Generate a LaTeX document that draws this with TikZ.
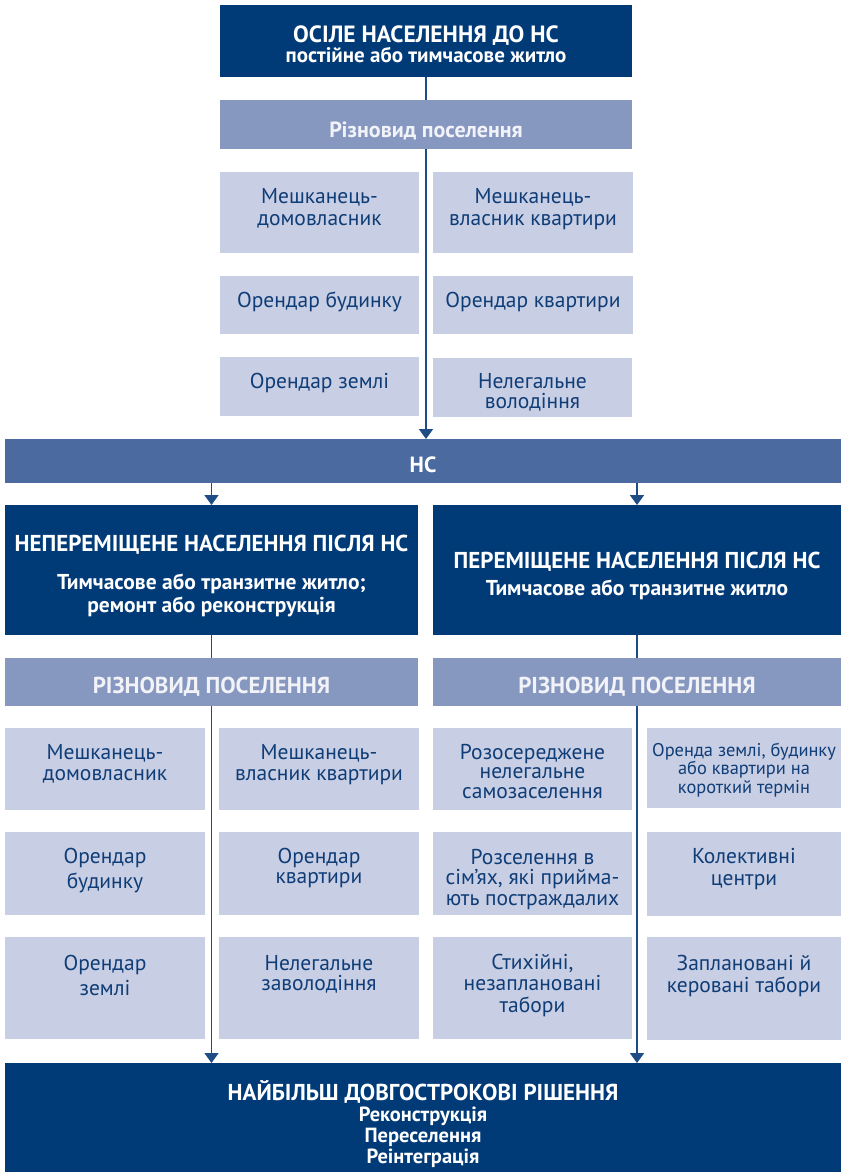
\documentclass[tikz,border=0pt]{standalone}
\usepackage{fontspec}
\setmainfont{PT Sans}
\usetikzlibrary{arrows.meta,backgrounds}

\definecolor{navy}{HTML}{003B78}
\definecolor{hcblue}{HTML}{4B6A9F}
\definecolor{barblue}{HTML}{8697C0}
\definecolor{cellblue}{HTML}{C8CEE3}
\definecolor{inknavy}{HTML}{0F3D77}
\definecolor{linkblue}{HTML}{1E4D86}
\definecolor{barink}{HTML}{F2F3F8}

\tikzset{
  panel/.style={rectangle, inner sep=0pt, outer sep=0pt, draw=none},
  dark/.style={panel, fill=navy},
  band/.style={panel, fill=hcblue},
  bar/.style={panel, fill=barblue},
  cell/.style={panel, fill=cellblue},
  % text blocks are placed by the baseline of their last line
  txt/.style={inner sep=0pt, outer sep=0pt, align=center, anchor=base},
  celltxt/.style={txt, text=inknavy},
  htxt/.style={txt, text=white},
  bartxt/.style={txt, text=barink},
  link/.style={draw=linkblue, line width=1.8pt},
  arr/.style={link, -{Triangle[width=14pt,length=10pt]}},
}

% box from (x1,y1) to (x2,y2), y measured downwards
\newcommand\panelbox[6]{%
  \node[#6, minimum width={#4-#2}, minimum height={#5-#3}] (#1)
    at ({(#2+#4)/2},{(#3+#5)/2}) {};}
% cell text: [options]{name}{x}{last baseline}{line spacing}{text}
\newcommand\celltext[6][]{%
  \node[celltxt, font=\fontsize{21.5}{#5}\selectfont, #1] (#2) at (#3,#4) {#6};}
% white heading: [options]{name}{x}{last baseline}{text}
\newcommand\headtext[5][]{%
  \node[htxt, #1] (#2) at (#3,#4) {#5};}

\begin{document}
\begin{tikzpicture}[x=1pt,y=-1pt]
\useasboundingbox (0,0) rectangle (841,1172);

% ---------- before the disaster ----------
\panelbox{top}{220}{5}{632}{77}{dark}
\headtext[font=\bfseries\fontsize{23.5}{20}\selectfont]{top-t}{426}{63}
  {ОСІЛЕ НАСЕЛЕННЯ ДО НС\\
   {\fontsize{21}{20}\selectfont постійне або тимчасове житло}}

\panelbox{rz}{220}{100}{632}{149}{bar}
\node[bartxt, font=\bfseries\fontsize{22}{20}\selectfont] (rz-t) at (426,137)
  {Різновид поселення};

\panelbox{a1}{220}{172}{419}{253}{cell}
\panelbox{a2}{433}{172}{633}{253}{cell}
\panelbox{a3}{220}{276}{419}{334}{cell}
\panelbox{a4}{433}{276}{633}{334}{cell}
\panelbox{a5}{220}{357}{419}{416}{cell}
\panelbox{a6}{433}{358}{632}{417}{cell}

\celltext{a1-t}{319.5}{225}{22}{Мешканець-\\домовласник}
\celltext{a2-t}{533}{225}{22}{Мешканець-\\власник квартири}
\celltext{a3-t}{319.5}{307}{21}{Орендар будинку}
\celltext{a4-t}{533}{307}{21}{Орендар квартири}
\celltext{a5-t}{319.5}{388}{21}{Орендар землі}
\celltext{a6-t}{532.5}{408}{20}{Нелегальне\\володіння}

% ---------- the disaster ----------
\panelbox{hc}{5}{439}{841}{483}{band}
\headtext[font=\bfseries\fontsize{22}{20}\selectfont]{hc-t}{423}{472}{НС}

% ---------- after the disaster ----------
\panelbox{nd}{5}{505}{418}{635}{dark}
\panelbox{pd}{433}{505}{841}{635}{dark}
\headtext[font=\bfseries\fontsize{23}{20}\selectfont]{nd-t}{211.5}{551}
  {НЕПЕРЕМІЩЕНЕ НАСЕЛЕННЯ ПІСЛЯ НС}
\headtext[font=\bfseries\fontsize{21.5}{23}\selectfont]{nd-s}{211.5}{612}
  {Тимчасове або транзитне житло;\\ремонт або реконструкція}
\headtext[font=\bfseries\fontsize{23}{27}\selectfont]{pd-t}{637}{595}
  {ПЕРЕМІЩЕНЕ НАСЕЛЕННЯ ПІСЛЯ НС\\
   {\fontsize{21.5}{27}\selectfont Тимчасове або транзитне житло}}

\panelbox{rl}{5}{658}{418}{706}{bar}
\panelbox{rr}{433}{658}{841}{706}{bar}
\node[bartxt, font=\bfseries\fontsize{23}{20}\selectfont] (rl-t) at (211.5,693)
  {РІЗНОВИД ПОСЕЛЕННЯ};
\node[bartxt, font=\bfseries\fontsize{23}{20}\selectfont] (rr-t) at (637,693)
  {РІЗНОВИД ПОСЕЛЕННЯ};

\panelbox{b1}{5}{728}{205}{810}{cell}
\panelbox{b2}{219}{728}{419}{810}{cell}
\panelbox{b3}{433}{728}{632}{810}{cell}
\panelbox{b4}{647}{728}{841}{808}{cell}
\panelbox{b5}{5}{832}{205}{915}{cell}
\panelbox{b6}{219}{832}{419}{915}{cell}
\panelbox{b7}{433}{832}{632}{915}{cell}
\panelbox{b8}{647}{832}{841}{916}{cell}
\panelbox{b9}{5}{937}{205}{1039}{cell}
\panelbox{b10}{219}{937}{419}{1039}{cell}
\panelbox{b11}{433}{937}{632}{1039}{cell}
\panelbox{b12}{647}{937}{841}{1040}{cell}

\celltext{b1-t}{105}{780}{21}{Мешканець-\\домовласник}
\celltext{b2-t}{319}{780}{21}{Мешканець-\\власник квартири}
\celltext{b3-t}{532.5}{798}{19.5}{Розосереджене\\нелегальне\\самозаселення}
\celltext[font=\fontsize{18.4}{18.5}\selectfont]{b4-t}{744}{793}{18.5}
  {Оренда землі, будинку\\або квартири на\\короткий термін}
\celltext{b5-t}{105}{888}{25}{Орендар\\будинку}
\celltext{b6-t}{319}{883}{20}{Орендар\\квартири}
\celltext{b7-t}{532.5}{905}{20.5}{Розселення в\\сім’ях, які прийма-\\ють постраждалих}
\celltext{b8-t}{744}{885}{22}{Колективні\\центри}
\celltext{b9-t}{105}{995}{25}{Орендар\\землі}
\celltext{b10-t}{319}{990}{20}{Нелегальне\\заволодіння}
\celltext{b11-t}{532.5}{1012}{21.5}{Стихійні,\\незаплановані\\табори}
\celltext{b12-t}{744}{992}{22}{Заплановані й\\керовані табори}

% ---------- durable solutions ----------
\panelbox{fin}{5}{1063}{841}{1172}{dark}
\headtext[font=\bfseries\fontsize{20.5}{21}\selectfont]{fin-t}{423}{1163}
  {{\fontsize{23}{21}\selectfont НАЙБІЛЬШ ДОВГОСТРОКОВІ РІШЕННЯ}\\
   Реконструкція\\Переселення\\Реінтеграція}

% ---------- connectors, behind the boxes ----------
\begin{scope}[on background layer]
  \draw[link] (top.south) -- (rz.north);
  \draw[arr] (rz.south) -- (rz.south |- hc.north);
  \draw[arr] (nd.north |- hc.south) -- (nd.north);
  \draw[arr] (pd.north |- hc.south) -- (pd.north);
  \draw[arr] (nd.south) -- (nd.south |- fin.north);
  \draw[arr] (pd.south) -- (pd.south |- fin.north);
\end{scope}
\end{tikzpicture}
\end{document}
